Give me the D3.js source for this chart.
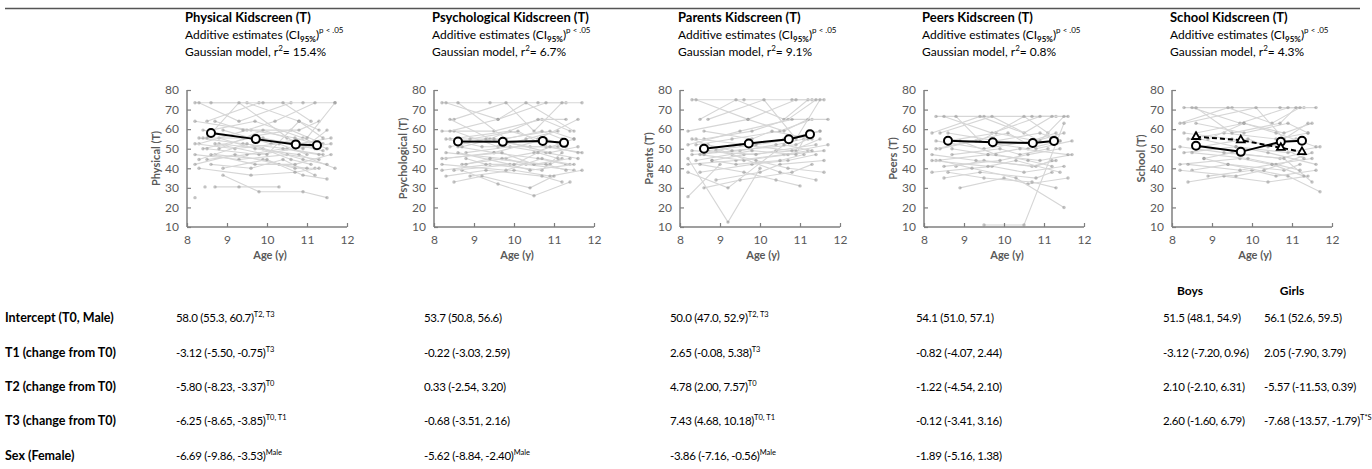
<!DOCTYPE html>
<html>
<head>
<meta charset="utf-8">
<script src="https://cdn.jsdelivr.net/npm/d3@7"></script>
<style>
body { margin: 0; background: #fff; }
svg { font-family: Lato, "Open Sans", sans-serif; }
</style>
</head>
<body>
<svg id="chart" width="1372" height="469"></svg>
<script>
// panel titles / labels
var titles = ["Physical Kidscreen (T)", "Psychological Kidscreen (T)", "Parents Kidscreen (T)", "Peers Kidscreen (T)", "School Kidscreen (T)"]
var r2 = ["15.4%", "6.7%", "9.1%", "0.8%", "4.3%"]
var yLabels = ["Physical (T)", "Psychological (T)", "Parents (T)", "Peers (T)", "School (T)"]
var xTicks = [8, 9, 10, 11, 12]
var yTicks = [10, 20, 30, 40, 50, 60, 70, 80]

// mean estimates at each wave
var waveAge = [8.6, 9.72, 10.72, 11.25]
var physMean = [58.0, 54.9, 52.2, 51.8]
var psychMean = [53.7, 53.5, 54.0, 53.0]
var parentsMean = [50.0, 52.7, 54.8, 57.4]
var peersMean = [54.1, 53.3, 52.9, 54.0]
var schoolBoys = [51.5, 48.4, 53.6, 54.1]
var schoolGirls = [56.1, 54.4, 50.5, 48.4]

// individual trajectories: [age, value, age, value, ...]
var physTraj = [
  [8.2,73.5, 9.5,73.5, 10.8,64, 11.3,59.5],
  [8.3,73.5, 9.3,64, 10.6,73.5],
  [8.5,64, 9.8,73.5, 10.9,73.5, 11.7,73.5],
  [8.2,64, 9.6,59.5, 10.7,55.5, 11.2,52.5],
  [8.6,59.5, 9.7,64, 10.9,55.5, 11.5,50],
  [8.3,55.5, 9.4,52.5, 10.5,50, 11.4,47],
  [8.8,52.5, 9.9,50, 10.6,44.5, 11.1,42],
  [8.4,50, 9.6,55.5, 10.8,52.5, 11.6,55.5],
  [8.7,47, 9.9,44.5, 10.7,40, 11.2,40],
  [8.5,44.5, 9.5,47, 10.4,50, 11.3,47],
  [8.2,42, 9.2,47, 10.3,42, 11.0,40],
  [8.9,40, 10.0,44.5, 10.9,36.5, 11.5,34.5],
  [8.2,25],
  [8.45,30.5],
  [8.7,30.5, 9.3,30.5, 10.3,30.5],
  [8.9,36.5, 9.8,28, 10.9,28, 11.5,25],
  [8.3,52.5, 9.5,59.5, 10.2,64, 11.2,73.5],
  [8.6,73.5, 9.9,73.5, 10.4,73.5, 11.1,64],
  [8.4,59.5, 9.4,55.5, 10.6,59.5, 11.4,52.5],
  [8.8,55.5, 9.7,50, 10.8,47, 11.7,40],
  [8.2,47, 9.3,44.5, 10.5,47, 11.3,44.5],
  [8.5,50, 9.8,47, 10.7,50, 11.6,52.5],
  [8.6,42, 9.6,40, 10.4,44.5, 11.2,36.5],
  [8.3,44.5, 9.5,52.5, 10.9,44.5, 11.5,42],
  [8.7,64, 9.4,59.5, 10.8,59.5, 11.3,64],
  [8.9,59.5, 10.1,52.5, 11.0,55.5, 11.7,73.5],
  [8.4,55.5, 9.9,55.5, 10.6,52.5, 11.4,49],
  [8.2,52.5, 9.2,50, 10.3,52.5, 11.0,47],
  [8.6,47, 9.7,42, 10.7,42, 11.6,47],
  [8.8,50, 9.9,59.5, 10.5,55.5, 11.2,50],
  [8.3,40, 9.6,36.5, 10.7,38, 11.3,40],
  [8.5,55.5, 9.3,73.5, 10.9,50, 11.5,59.5],
  [8.7,52.5, 10.0,47, 10.8,64, 11.4,55.5]
]
var psychTraj = [
  [8.2,73.5, 9.4,73.5, 10.6,73.5, 11.3,73.5],
  [8.3,73.5, 9.6,65, 10.8,73.5, 11.7,73.5],
  [8.5,65, 9.8,73.5, 10.5,59, 11.2,73.5],
  [8.2,59, 9.5,59, 10.7,65, 11.4,59],
  [8.6,55, 9.7,55, 10.9,59, 11.5,55],
  [8.4,51, 9.3,55, 10.4,51, 11.1,51],
  [8.8,48, 9.9,51, 10.8,48, 11.6,45],
  [8.3,45, 9.5,48, 10.6,45, 11.3,42],
  [8.7,42, 9.8,45, 10.3,42, 11.5,39],
  [8.2,39, 9.4,42, 10.7,39, 11.2,48],
  [8.9,36, 10.0,39, 10.9,36, 11.7,39],
  [8.5,33, 9.2,36, 10.4,30, 11.0,36],
  [8.7,39, 9.6,32, 10.5,26, 11.4,33],
  [8.4,55, 9.9,59, 10.6,55, 11.6,65],
  [8.6,51, 9.5,48, 10.8,55, 11.3,51],
  [8.3,48, 9.7,45, 10.5,48, 11.5,55],
  [8.8,45, 9.3,42, 10.9,42, 11.2,45],
  [8.2,42, 9.8,39, 10.7,45, 11.4,42],
  [8.5,59, 9.6,51, 10.3,55, 11.1,59],
  [8.9,55, 10.1,59, 10.8,51, 11.7,48],
  [8.4,65, 9.4,55, 10.6,65, 11.3,65],
  [8.6,48, 9.9,42, 10.4,39, 11.5,42],
  [8.3,36, 9.3,39, 10.7,36, 11.2,33],
  [8.7,51, 9.5,55, 10.9,48, 11.6,51],
  [8.2,45, 9.7,48, 10.5,42, 11.4,45],
  [8.8,42, 9.4,45, 10.8,42, 11.3,39],
  [8.5,39, 10.0,42, 10.6,48, 11.1,45],
  [8.4,59, 9.6,65, 10.3,73.5, 11.5,59],
  [8.6,73.5, 9.8,55, 10.7,59, 11.2,55],
  [8.3,55, 9.2,51, 10.9,51, 11.6,48]
]
var parentsTraj = [
  [8.3,75, 9.6,75, 10.8,75, 11.3,75],
  [8.5,65, 9.4,75, 10.6,65, 11.2,75],
  [8.2,59, 9.7,65, 10.9,75, 11.6,75],
  [8.6,55, 9.8,59, 10.7,65, 11.4,75],
  [8.4,52, 9.3,55, 10.5,59, 11.3,65],
  [8.7,49, 9.9,52, 10.8,55, 11.5,59],
  [8.3,47, 9.5,49, 10.4,52, 11.1,55],
  [8.8,44, 9.6,47, 10.9,49, 11.7,52],
  [8.2,42, 9.4,44, 10.6,47, 11.2,49],
  [8.5,38, 9.8,42, 10.7,44, 11.4,47],
  [8.9,34, 10.0,38, 10.5,42, 11.6,44],
  [8.6,30, 9.5,34, 10.8,38, 11.3,42],
  [8.2,45, 9.2,12.5, 10.0,40],
  [8.2,25.5, 9.0,42],
  [8.4,55, 9.7,52, 10.6,55, 11.5,59],
  [8.7,52, 9.3,49, 10.9,52, 11.2,55],
  [8.3,49, 9.9,47, 10.4,49, 11.4,52],
  [8.5,47, 9.6,44, 10.7,47, 11.6,49],
  [8.8,44, 9.4,42, 10.5,44, 11.1,47],
  [8.6,59, 9.8,55, 10.3,59, 11.3,55],
  [8.2,52, 9.5,59, 10.8,65, 11.7,65],
  [8.4,75, 9.7,65, 10.6,59, 11.2,65],
  [8.7,65, 10.1,75, 10.9,55, 11.5,75],
  [8.3,55, 9.3,47, 10.5,38, 11.4,34],
  [8.9,49, 9.9,44, 10.7,40, 11.6,38],
  [8.5,42, 9.6,38, 10.4,34, 11.0,31],
  [8.2,38, 9.2,30, 10.6,52, 11.3,49],
  [8.6,47, 9.5,52, 10.8,49, 11.5,55],
  [8.4,44, 9.8,49, 10.9,47, 11.2,59]
]
var peersTraj = [
  [8.3,66.5, 9.5,66.5, 10.7,66.5, 11.3,66.5],
  [8.5,66.5, 9.7,58, 10.9,66.5, 11.6,66.5],
  [8.2,58, 9.4,66.5, 10.5,58, 11.2,66.5],
  [8.6,54, 9.8,58, 10.8,54, 11.5,58],
  [8.4,50, 9.3,54, 10.6,50, 11.4,54],
  [8.7,47, 9.9,50, 10.4,47, 11.1,50],
  [8.3,44, 9.6,47, 10.9,44, 11.7,47],
  [8.8,41, 9.5,44, 10.7,41, 11.3,44],
  [8.2,38, 9.7,41, 10.5,38, 11.5,41],
  [8.5,35, 9.4,38, 10.8,35, 11.2,38],
  [8.9,30, 10.0,35, 10.6,32, 11.6,35],
  [9.5,11, 10.5,11, 11.5,63],
  [8.4,44, 9.2,40, 10.3,35, 11.5,20],
  [8.6,58, 9.8,54, 10.9,58, 11.4,54],
  [8.3,54, 9.5,50, 10.7,54, 11.3,58],
  [8.7,50, 9.6,47, 10.4,50, 11.6,47],
  [8.2,47, 9.3,44, 10.8,41, 11.2,44],
  [8.5,41, 9.9,44, 10.6,47, 11.4,50],
  [8.8,66.5, 9.4,54, 10.5,66.5, 11.1,58],
  [8.4,58, 9.7,66.5, 10.9,54, 11.5,66.5],
  [8.6,38, 9.5,35, 10.7,33, 11.3,30],
  [8.3,50, 10.1,58, 10.8,50, 11.7,54],
  [8.9,54, 9.8,47, 10.6,44, 11.2,41],
  [8.2,44, 9.6,41, 10.3,44, 11.4,38]
]
var schoolTraj = [
  [8.3,71, 9.5,71, 10.7,71, 11.3,71],
  [8.5,71, 9.7,63, 10.9,71, 11.6,71],
  [8.2,63, 9.4,71, 10.5,63, 11.2,71],
  [8.6,58, 9.8,63, 10.8,58, 11.5,63],
  [8.4,55, 9.3,58, 10.6,55, 11.4,58],
  [8.7,51, 9.9,55, 10.4,51, 11.1,55],
  [8.3,48, 9.6,51, 10.9,48, 11.7,51],
  [8.8,45, 9.5,48, 10.7,45, 11.3,48],
  [8.2,42, 9.7,45, 10.5,42, 11.5,45],
  [8.5,39, 9.4,42, 10.8,39, 11.2,42],
  [8.9,36, 10.0,39, 10.6,36, 11.6,39],
  [8.4,33, 9.3,36, 10.4,33, 11.4,36],
  [8.6,63, 9.8,58, 10.9,63, 11.4,58],
  [8.3,58, 9.5,55, 10.7,51, 11.3,45],
  [8.7,55, 9.6,51, 10.4,48, 11.6,42],
  [8.2,51, 9.3,48, 10.8,45, 11.5,33],
  [8.5,48, 9.9,45, 10.6,42, 11.2,39],
  [8.8,45, 9.4,42, 10.9,36, 11.7,28],
  [8.4,42, 9.7,39, 10.5,42, 11.3,36],
  [8.6,71, 9.5,58, 10.7,63, 11.1,71],
  [8.3,63, 10.1,71, 10.8,55, 11.4,63],
  [8.9,55, 9.8,63, 10.6,58, 11.6,51],
  [8.2,39, 9.6,36, 10.3,39, 11.5,48]
]

var trajs = [physTraj, psychTraj, parentsTraj, peersTraj, schoolTraj]
var means = [[physMean], [psychMean], [parentsMean], [peersMean], [schoolBoys, schoolGirls]]

// table
var rowLabels = ["Intercept (T0, Male)", "T1 (change from T0)", "T2 (change from T0)", "T3 (change from T0)", "Sex (Female)"]
var physEst = [["58.0 (55.3, 60.7)", "T2, T3"], ["-3.12 (-5.50, -0.75)", "T3"], ["-5.80 (-8.23, -3.37)", "T0"], ["-6.25 (-8.65, -3.85)", "T0, T1"], ["-6.69 (-9.86, -3.53)", "Male"]]
var psychEst = [["53.7 (50.8, 56.6)", ""], ["-0.22 (-3.03, 2.59)", ""], ["0.33 (-2.54, 3.20)", ""], ["-0.68 (-3.51, 2.16)", ""], ["-5.62 (-8.84, -2.40)", "Male"]]
var parentsEst = [["50.0 (47.0, 52.9)", "T2, T3"], ["2.65 (-0.08, 5.38)", "T3"], ["4.78 (2.00, 7.57)", "T0"], ["7.43 (4.68, 10.18)", "T0, T1"], ["-3.86 (-7.16, -0.56)", "Male"]]
var peersEst = [["54.1 (51.0, 57.1)", ""], ["-0.82 (-4.07, 2.44)", ""], ["-1.22 (-4.54, 2.10)", ""], ["-0.12 (-3.41, 3.16)", ""], ["-1.89 (-5.16, 1.38)", ""]]
var boysEst = [["51.5 (48.1, 54.9)", ""], ["-3.12 (-7.20, 0.96)", ""], ["2.10 (-2.10, 6.31)", ""], ["2.60 (-1.60, 6.79)", ""]]
var girlsEst = [["56.1 (52.6, 59.5)", ""], ["2.05 (-7.90, 3.79)", ""], ["-5.57 (-11.53, 0.39)", ""], ["-7.68 (-13.57, -1.79)", "T*S"]]

var svg = d3.select('#chart')
var panelX = [187, 434, 680, 924, 1172]
var top0 = 90, pw = 160, ph = 137
var axisColor = '#7f7f7f', tickText = '#595959'

var x = d3.scaleLinear().domain([8, 12]).range([0, pw])
var y = d3.scaleLinear().domain([10, 80]).range([ph, 0])

// top rule
svg.append('line').attr('x1', 5).attr('x2', 1360).attr('y1', 8.5).attr('y2', 8.5)
  .style('stroke', '#555').style('stroke-width', 1.5)

titles.forEach(function(t, i) {
  var tx = panelX[i] - 2
  svg.append('text').attr('x', tx).attr('y', 22).style('font-weight', 'bold').style('font-size', '13px').text(t)
  var l2 = svg.append('text').attr('x', tx).attr('y', 39).style('font-size', '12px')
  l2.append('tspan').text('Additive  estimates (CI')
  l2.append('tspan').attr('dy', 3).style('font-size', '8px').style('font-weight', 'bold').text('95%')
  l2.append('tspan').attr('dy', -3).text(')')
  l2.append('tspan').attr('dy', -6).style('font-size', '8px').text('p < .05')
  var l3 = svg.append('text').attr('x', tx).attr('y', 56).style('font-size', '12px')
  l3.append('tspan').text('Gaussian model, r')
  l3.append('tspan').attr('dy', -5).style('font-size', '8px').text('2')
  l3.append('tspan').attr('dy', 5).text('= ' + r2[i])

  var g = svg.append('g').attr('transform', 'translate(' + panelX[i] + ',' + top0 + ')')

  // individual trajectories
  var line = d3.line().x(function(d) { return x(d[0]) }).y(function(d) { return y(d[1]) })
  trajs[i].forEach(function(tr) {
    var pts = []
    for (var k = 0; k < tr.length; k += 2) pts.push([tr[k], tr[k + 1]])
    g.append('path').datum(pts).attr('d', line)
      .style('fill', 'none').style('stroke', '#d6d6d6').style('stroke-width', 1.1)
    g.selectAll(null).data(pts).enter().append('circle')
      .attr('cx', function(d) { return x(d[0]) })
      .attr('cy', function(d) { return y(d[1]) })
      .attr('r', 1.7)
      .style('fill', '#888').style('opacity', 0.5)
  })

  // axes
  var ax = g.append('g').attr('transform', 'translate(0,' + ph + ')')
    .call(d3.axisBottom(x).tickValues(xTicks).tickFormat(d3.format('d')).tickSize(-4).tickPadding(8))
  var ay = g.append('g').call(d3.axisLeft(y).tickValues(yTicks).tickSize(-4).tickPadding(9))
  ;[ax, ay].forEach(function(a) {
    a.select('.domain').style('stroke', axisColor).style('stroke-width', 1.5)
    a.selectAll('.tick line').style('stroke', axisColor).style('stroke-width', 1.2)
    a.selectAll('.tick text').style('fill', tickText).style('font-size', '12px').style('font-family', 'Lato, sans-serif')
  })
  ax.select('.domain').attr('d', 'M0,0H' + pw)
  ay.select('.domain').attr('d', 'M0,0V' + ph)
  ay.selectAll('.tick text').attr('x', -8)

  svg.append('text').attr('x', panelX[i] + pw / 2 + 3).attr('y', top0 + ph + 32)
    .style('text-anchor', 'middle').style('font-weight', 'bold').style('font-size', '11px').style('fill', tickText)
    .text('Age (y)')
  svg.append('text').attr('transform', 'translate(' + (panelX[i] - 27) + ',' + (top0 + ph / 2) + ') rotate(-90)')
    .style('text-anchor', 'middle').style('font-weight', 'bold').style('font-size', '11px').style('fill', tickText)
    .text(yLabels[i])

  // mean lines
  means[i].forEach(function(m, j) {
    var pts = m.map(function(v, k) { return [waveAge[k], v] })
    g.append('path').datum(pts).attr('d', line)
      .style('fill', 'none').style('stroke', '#000').style('stroke-width', 2)
      .style('stroke-dasharray', j == 1 ? '5,3' : null)
    if (j == 0) {
      g.selectAll(null).data(pts).enter().append('circle')
        .attr('cx', function(d) { return x(d[0]) })
        .attr('cy', function(d) { return y(d[1]) })
        .attr('r', 4).style('fill', '#fff').style('stroke', '#000').style('stroke-width', 2)
    } else {
      g.selectAll(null).data(pts).enter().append('path')
        .attr('transform', function(d) { return 'translate(' + x(d[0]) + ',' + y(d[1]) + ')' })
        .attr('d', d3.symbol().type(d3.symbolTriangle).size(26))
        .style('fill', '#fff').style('stroke', '#000').style('stroke-width', 1.8)
    }
  })
})

// table
var rowY = [322, 357, 391, 425, 460]
rowLabels.forEach(function(l, i) {
  svg.append('text').attr('x', 5).attr('y', rowY[i]).style('font-weight', 'bold').style('font-size', '12.5px').text(l)
})
svg.append('text').attr('x', 1190).attr('y', 295).style('text-anchor', 'middle').style('font-weight', 'bold').style('font-size', '12px').text('Boys')
svg.append('text').attr('x', 1292).attr('y', 295).style('text-anchor', 'middle').style('font-weight', 'bold').style('font-size', '12px').text('Girls')

var cols = [[physEst, 176], [psychEst, 424], [parentsEst, 670], [peersEst, 916], [boysEst, 1163], [girlsEst, 1264]]
cols.forEach(function(c) {
  c[0].forEach(function(e, i) {
    var t = svg.append('text').attr('x', c[1]).attr('y', rowY[i]).style('font-size', '11.5px').style('letter-spacing', '-0.3px')
    t.append('tspan').text(e[0])
    if (e[1]) t.append('tspan').attr('dy', -5).style('font-size', '7.5px').style('letter-spacing', '0px').text(e[1])
  })
})
</script>
</body>
</html>
